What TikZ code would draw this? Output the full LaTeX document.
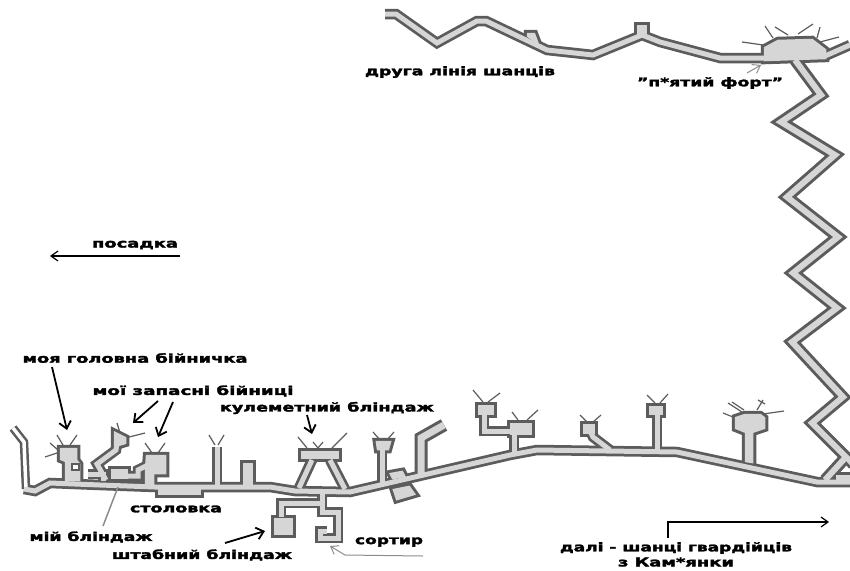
\documentclass[tikz,border=0pt]{standalone}
\usepackage{fontspec}
\usepackage{graphicx}
\setmainfont{DejaVu Sans}[BoldFeatures={FakeBold=2.2}]
\usetikzlibrary{arrows.meta}
\definecolor{wall}{RGB}{92,92,92}
\definecolor{floorc}{RGB}{214,214,214}
\definecolor{soft}{RGB}{140,140,140}
\newcommand{\fitw}[2]{\resizebox{#1pt}{\height}{#2}}
\newcommand{\allworks}{%
 % second line and fort
 \draw[tr] (385,14)--(396,14)--(437,43)--(477,21)--(486,21)--(547,50)--(593,55)--(642,35)--(660,42)--(720,58)--(765,58);
 \draw[tr] (825,56)--(850,45);
 \draw[rm] (528,36)--(528,34)--(534,34)--(537,42)--cycle;
 \draw[rm] (638,36)--(638,26)--(646,26)--(646,36)--cycle;
 \draw[rm] (765,48)--(778,41)--(812,40)--(825,50)--(825,58)--(765,60)--cycle;
 % zigzag
 \draw[zz] (795,60)--(821,95)--(781,122)--(835,155)--(787,197)--(838,237)--(793,273)--(837,308)--(792,342)--(843,397)--(812,423)--(846,457)--(825,480);
 \draw[tr] (846,457)--(853,465);
 \draw[tr] (836,477)--(853,477);
 % main trench
 \draw[tn] (13,428)--(24,442)--(26,489);
 \draw[tr] (24,489)--(35,491)--(50,483)--(100,485)--(155,487)--(270,487)--(295,491)--(350,492)--(510,455)--(537,450)--(677,452)--(747,467)--(817,482)--(853,482);
 % left main room group
 \draw[rm] (61,449)--(76,449)--(76,460)--(79,464)--(79,480)--(66,480)--(66,461)--(61,459)--cycle;
 \draw[tr] (88,474)--(103,474)--(103,481);
 \draw[tr] (106,480)--(97,464)--(116,450)--(118,438);
 \draw[rm] (115,433)--(125,438)--(125,443)--(115,446)--cycle;
 \draw[rm] (112,470)--(127,470)--(127,478)--(112,478)--cycle;
 \draw[tr] (127,476)--(138,476)--(138,470)--(146,466);
 \draw[rm] (147,456)--(165,456)--(165,473)--(153,473)--(153,484)--(146,484)--(146,470)--cycle;
 % mess room
 \draw[rm] (159,490)--(200,490)--(200,494)--(159,494)--cycle;
 % stubs
 \draw[tr] (217,485)--(217,447);
 \draw[rm] (244,464)--(252,464)--(252,484)--(244,484)--cycle;
 % machine gun dugout
 \draw[rm] (302,452)--(338,452)--(338,458)--(302,458)--cycle;
 \draw[tr] (312,460)--(299,488);
 \draw[tr] (330,460)--(345,489);
 % staff and latrine
 \draw[tr] (322,493)--(322,512)--(338,512)--(338,538)--(320,538)--(320,531)--(327,531);
 \draw[tr] (322,503)--(281,503)--(281,517);
 \draw[rm] (275,519)--(292,519)--(292,534)--(275,534)--cycle;
 % centre
 \draw[tr] (382,447)--(382,484);
 \draw[rm] (377,442)--(390,442)--(388,449)--(378,449)--cycle;
 \draw[rm] (391,474)--(402,472)--(404,476)--(393,478)--cycle;
 \draw[rm] (394,490)--(409,487)--(414,494)--(397,499)--cycle;
 \draw[tw] (421,477)--(421,438)--(444,425);
 % right rooms
 \draw[rm] (479,406)--(493,406)--(493,414)--(479,414)--cycle;
 \draw[tr] (484,414)--(484,431)--(512,431);
 \draw[rm] (511,424)--(531,424)--(531,434)--(511,434)--cycle;
 \draw[tr] (514,434)--(514,455);
 \draw[rm] (584,425)--(594,425)--(594,433)--(584,433)--cycle;
 \draw[tr] (590,431)--(593,437)--(610,450);
 \draw[rm] (650,407)--(662,407)--(662,414)--(650,414)--cycle;
 \draw[tr] (657,414)--(657,452);
 \draw[rm] (736,418)--(745,415)--(760,415)--(764,418)--(764,428)--(752,432)--(752,462)--(746,461)--(746,432)--(736,428)--cycle;
}
\tikzset{
 ray/.style={draw=wall,line width=1.2pt},
 lbl/.style={font=\bfseries\fontsize{12}{13}\selectfont,inner sep=0pt,text=black,anchor=center},
 bigarrow/.style={draw=black,line width=1.8pt,-{Straight Barb[length=7pt,width=12pt,line width=1.8pt]}},
 thinarrow/.style={draw=black,line width=1.2pt,-{Straight Barb[length=7pt,width=10pt,line width=1.2pt]}},
 softarrow/.style={draw=soft,line width=1pt,-{Straight Barb[length=7pt,width=10pt,line width=1pt]}},
}
\begin{document}
\begin{tikzpicture}[x=1pt,y=-1pt]
\useasboundingbox (0,0) rectangle (850,570);
\fill[white] (0,0) rectangle (850,570);
% rays
\foreach \xa/\ya/\xb/\yb in {765/26/773/38,775/27/788/35,813/24/798/34,820/27/817/38,839/37/820/42,742/42/763/45,
 57/435/63/445,77/435/70/445,50/443/58/450,45/457/57/453,
 117/423/120/433,145/433/125/438,145/443/152/453,165/443/158/453,
 209/435/215/445,224/435/218/445,
 298/437/307/448,313/442/318/448,323/442/318/448,347/433/332/448,
 373/432/380/440,394/432/387/440,
 473/390/483/402,500/393/488/402,512/412/518/420,538/410/527/420,
 580/415/587/422,601/415/593/422,647/395/655/403,668/394/660/403,
 723/413/733/417,728/403/742/412,732/402/744/410,763/400/757/410,758/400/765/404,784/411/763/414}
 {\draw[ray] (\xa,\ya)--(\xb,\yb);}
% two passes: walls, then floors
\begin{scope}[tr/.style={draw=wall,line width=10.5pt,line join=miter},
 zz/.style={draw=wall,line width=12pt,line join=miter},
 tn/.style={draw=wall,line width=8.5pt,line join=miter},
 tw/.style={draw=wall,line width=13pt,line join=miter},
 rm/.style={draw=wall,fill=wall,line width=8.5pt,line join=miter}]
\allworks
\end{scope}
\begin{scope}[tr/.style={draw=floorc,line width=5pt,line join=miter},
 zz/.style={draw=floorc,line width=6pt,line join=miter},
 tn/.style={draw=white,line width=3.5pt,line join=miter},
 tw/.style={draw=floorc,line width=7pt,line join=miter},
 rm/.style={draw=floorc,fill=floorc,line width=2.5pt,line join=miter}]
\allworks
\end{scope}
% small hole in the main room group
\draw[wall,fill=white,line width=2.5pt] (72,464) rectangle (79,470);
% labels
\node[lbl] (l1) at (460,72) {\fitw{190}{друга лінія шанців}};
\node[lbl] (l2) at (710,83) {\fitw{146}{"п*ятий форт"}};
\node[lbl] (l3) at (135,245) {\fitw{86}{посадка}};
\node[lbl] (l4) at (135,358) {\fitw{225}{моя головна бійничка}};
\node[lbl] (l5) at (193,391) {\fitw{201}{мої запасні бійниці}};
\node[lbl] (l6) at (327,408) {\fitw{214}{кулеметний бліндаж}};
\node[lbl] (l7) at (176,509) {\fitw{92}{столовка}};
\node[lbl] (l8) at (91,537) {\fitw{123}{мій бліндаж}};
\node[lbl] (l9) at (202,555) {\fitw{180}{штабний бліндаж}};
\node[lbl] (l10) at (389,542) {\fitw{68}{сортир}};
\node[lbl] (l11) at (676,548) {\fitw{232}{далі - шанці гвардійців}};
\node[lbl] (l12) at (676,562) {\fitw{116}{з Кам*янки}};
% connector ends
\coordinate (a3s) at (180,256); \coordinate (a3e) at (50,256);
\coordinate (a4s) at (52,367);  \coordinate (a4e) at (67,430);
\coordinate (a5s) at (158,401); \coordinate (a5e) at (133,423);
\coordinate (a6s) at (173,402); \coordinate (a6e) at (158,437);
\coordinate (a7s) at (307,415); \coordinate (a7e) at (312,434);
\coordinate (a8s) at (118,487); \coordinate (a8e) at (103,526);
\coordinate (a9s) at (225,543); \coordinate (a9e) at (265,531);
\coordinate (a10s) at (423,556); \coordinate (a10m) at (345,555); \coordinate (a10e) at (330,546);
\coordinate (a11s) at (668,538); \coordinate (a11m) at (668,522); \coordinate (a11e) at (829,522);
\coordinate (a2s) at (747,73); \coordinate (a2e) at (761,65);
\draw[thinarrow] (a3s)--(a3e);
\draw[bigarrow] (a4s)--(a4e);
\draw[bigarrow] (a5s)--(a5e);
\draw[bigarrow] (a6s)--(a6e);
\draw[bigarrow] (a7s)--(a7e);
\draw[draw=soft,line width=1.5pt] (a8s)--(a8e);
\draw[bigarrow] (a9s)--(a9e);
\draw[softarrow] (a10s)--(a10m)--(a10e);
\draw[thinarrow] (a11s)--(a11m)--(a11e);
\draw[softarrow] (a2s)--(a2e);
\end{tikzpicture}
\end{document}
